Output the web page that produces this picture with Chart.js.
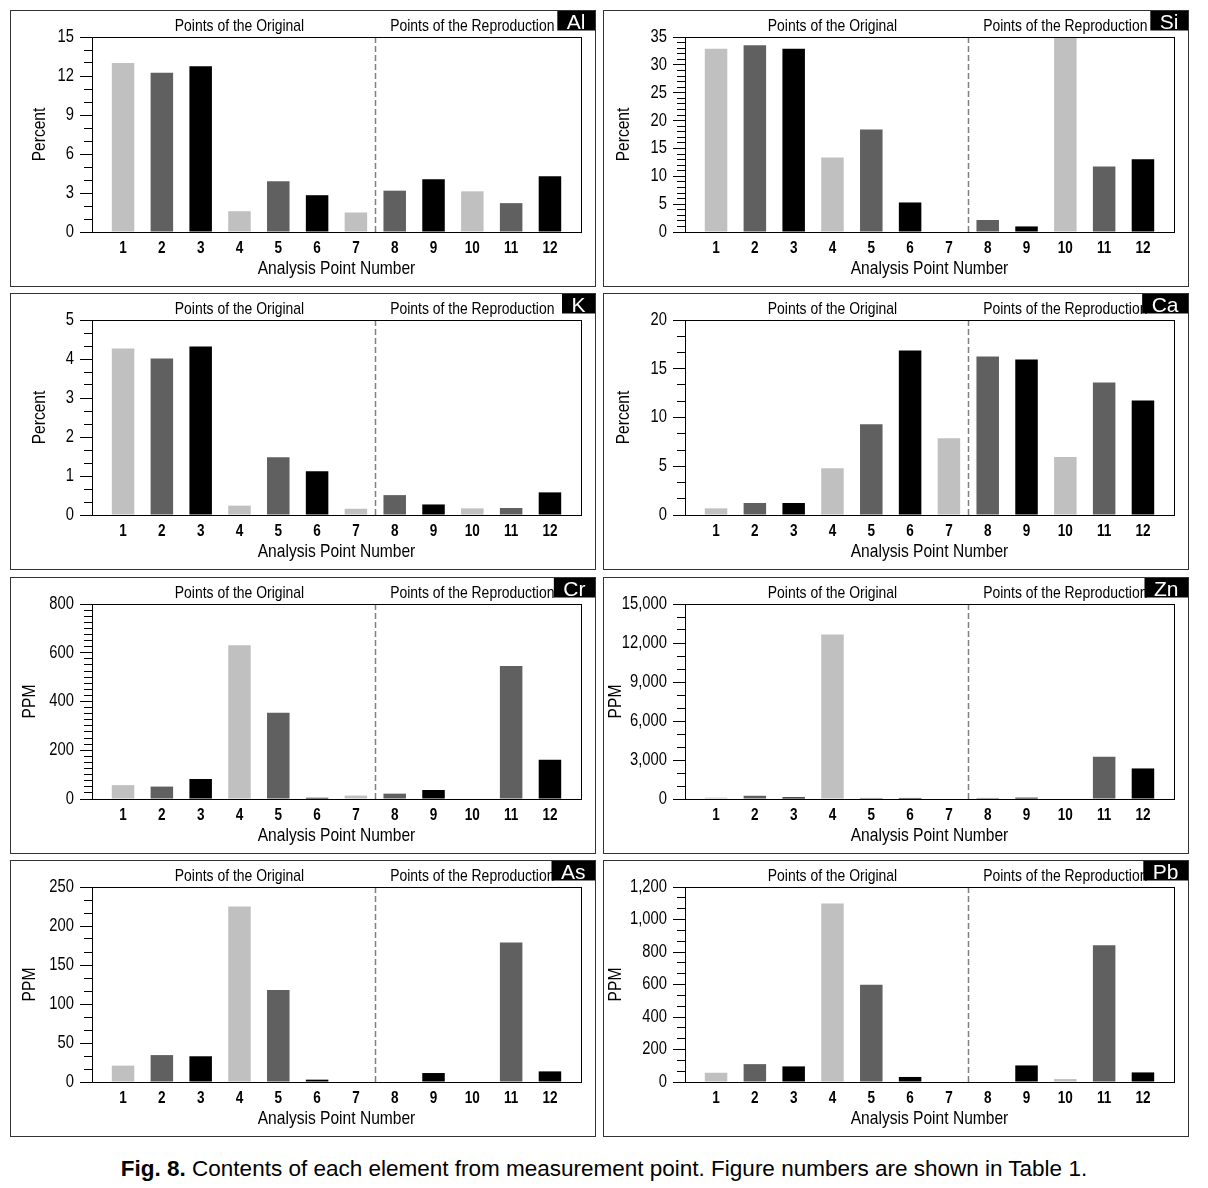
<!DOCTYPE html>
<html>
<head>
<meta charset="utf-8">
<script src="https://cdn.jsdelivr.net/npm/chart.js@4.4.1/dist/chart.umd.min.js"></script>
<style>
  html, body { margin: 0; padding: 0; background: #fff; }
  body { width: 1208px; height: 1188px; position: relative; overflow: hidden; }
  .panel { position: absolute; width: 584px; height: 275px; border: 1px solid #333; background: #fff; }
  .panel canvas { position: absolute; left: 0; top: 0; }
  #caption { position: absolute; left: 0; top: 1156px; width: 1208px; text-align: center;
             font-family: 'Liberation Sans', Arial, sans-serif; font-size: 22.5px; line-height: 26px; color: #000; }
</style>
</head>
<body>
<div id="caption"><b>Fig. 8.</b> Contents of each element from measurement point. Figure numbers are shown in Table 1.</div>
<script>
// ---------------- data ----------------
const pointNumbers = [1, 2, 3, 4, 5, 6, 7, 8, 9, 10, 11, 12];

const alPercent = [13.0, 12.25, 12.75, 1.6, 3.9, 2.83, 1.5, 3.18, 4.05, 3.13, 2.22, 4.28];
const siPercent = [32.9, 33.5, 32.9, 13.35, 18.4, 5.3, 0, 2.15, 1.0, 36.0, 11.75, 13.05];
const kPercent  = [4.27, 4.01, 4.32, 0.24, 1.48, 1.12, 0.16, 0.51, 0.27, 0.17, 0.18, 0.58];
const caPercent = [0.68, 1.23, 1.23, 4.8, 9.3, 16.87, 7.87, 16.25, 15.95, 5.96, 13.6, 11.75];
const crPpm = [57, 51, 82, 631, 354, 5, 14, 22, 37, 0, 546, 161];
const znPpm = [100, 250, 130, 12650, 80, 80, 0, 80, 100, 0, 3245, 2350];
const asPpm = [21, 34.5, 33, 225, 118, 3, 0, 0, 11.5, 0, 179, 13.6];
const pbPpm = [57, 110, 96, 1098, 599, 31, 0, 0, 102, 18, 842, 59];

// major tick labels of each value axis
const alTicks = [0, 3, 6, 9, 12, 15];
const siTicks = [0, 5, 10, 15, 20, 25, 30, 35];
const kTicks  = [0, 1, 2, 3, 4, 5];
const caTicks = [0, 5, 10, 15, 20];
const crTicks = [0, 100, 200, 300, 400, 500, 600, 700, 800];
const znTicks = [0, 3000, 6000, 9000, 12000, 15000];
const asTicks = [0, 50, 100, 150, 200, 250];
const pbTicks = [0, 200, 400, 600, 800, 1000, 1200];

const groupLabels = ['Points of the Original', 'Points of the Reproduction'];
const groupCenters = [4, 10];
const dividerAt = 7.5;
const xTitle = 'Analysis Point Number';

// ---------------- styles / layout ----------------
const barShades = ['#c0c0c0', '#606060', '#000000'];
const FONT = "'Liberation Sans', Arial, sans-serif";
const CONDENSE = 0.82;   // the figure uses a narrow face

const panels = [
  { tag: 'Al', values: alPercent, ticks: alTicks, minorSplit: 3, unit: 'Percent', left: 10,  top: 10,  titlePad: 17 },
  { tag: 'Si', values: siPercent, ticks: siTicks, minorSplit: 5, unit: 'Percent', left: 603, top: 10,  titlePad: 8 },
  { tag: 'K',  values: kPercent,  ticks: kTicks,  minorSplit: 3, unit: 'Percent', left: 10,  top: 293, titlePad: 17 },
  { tag: 'Ca', values: caPercent, ticks: caTicks, minorSplit: 3, unit: 'Percent', left: 603, top: 293, titlePad: 8 },
  { tag: 'Cr', values: crPpm,     ticks: crTicks, minorSplit: 4, unit: 'PPM',     left: 10,  top: 577, titlePad: 7 },
  { tag: 'Zn', values: znPpm,     ticks: znTicks, minorSplit: 3, unit: 'PPM',     left: 603, top: 577, titlePad: 0 },
  { tag: 'As', values: asPpm,     ticks: asTicks, minorSplit: 3, unit: 'PPM',     left: 10,  top: 860, titlePad: 7 },
  { tag: 'Pb', values: pbPpm,     ticks: pbTicks, minorSplit: 3, unit: 'PPM',     left: 603, top: 860, titlePad: 0 }
];

const CW = 584, CH = 275;
const Y_AXIS_W = 81, X_AXIS_H = 54, PAD_TOP = 26, PAD_RIGHT = 14;

// draw all text of a canvas horizontally condensed (narrow face look)
function condenseText(ctx) {
  const orig = ctx.fillText.bind(ctx);
  ctx.fillText = function (text, x, y, maxWidth) {
    this.save();
    this.translate(x, y);
    this.scale(CONDENSE, 1);
    if (maxWidth !== undefined) orig(text, 0, 0, maxWidth / CONDENSE); else orig(text, 0, 0);
    this.restore();
  };
  ctx.fillTextPlain = orig;
}

const panelDecor = {
  id: 'panelDecor',
  afterDraw(chart, args, opts) {
    const { ctx, chartArea: a } = chart;
    const x = chart.scales.x;
    ctx.save();
    // divider between original and reproduction points
    const dx = Math.round(x.getPixelForValue(dividerAt)) + 0.5;
    ctx.strokeStyle = '#808080';
    ctx.lineWidth = 1.5;
    ctx.setLineDash([6, 3]);
    ctx.beginPath();
    ctx.moveTo(dx, a.top);
    ctx.lineTo(dx, a.bottom);
    ctx.stroke();
    ctx.setLineDash([]);
    // plot frame
    ctx.strokeStyle = '#000';
    ctx.lineWidth = 1;
    ctx.strokeRect(Math.round(a.left) + 0.5, Math.round(a.top) + 0.5,
                   Math.round(a.right - a.left), Math.round(a.bottom - a.top));
    // group headings
    ctx.fillStyle = '#000';
    ctx.font = '17px ' + FONT;
    ctx.textAlign = 'center';
    ctx.textBaseline = 'alphabetic';
    groupLabels.forEach((t, i) => ctx.fillText(t, x.getPixelForValue(groupCenters[i]), 20));
    // element tag
    ctx.font = '21px ' + FONT;
    const w = ctx.measureText(opts.tag).width + 19;
    ctx.fillStyle = '#000';
    ctx.fillRect(chart.width - w, 0, w, 19.5);
    ctx.fillStyle = '#fff';
    ctx.fillTextPlain(opts.tag, chart.width - w / 2, 17.5);
    ctx.restore();
  }
};

function fmt(v) { return Number(v).toLocaleString('en-US'); }

panels.forEach(p => {
  const div = document.createElement('div');
  div.className = 'panel';
  div.style.left = p.left + 'px';
  div.style.top = p.top + 'px';
  const cv = document.createElement('canvas');
  cv.width = CW; cv.height = CH;
  cv.style.width = CW + 'px'; cv.style.height = CH + 'px';
  div.appendChild(cv);
  document.body.appendChild(div);
  condenseText(cv.getContext('2d'));

  const yMax = p.ticks[p.ticks.length - 1];
  const majorStep = p.ticks[1] - p.ticks[0];
  const minorTicks = [];
  const nMinor = (p.ticks.length - 1) * p.minorSplit;
  for (let i = 0; i <= nMinor; i++) minorTicks.push(i * majorStep / p.minorSplit);

  new Chart(cv, {
    type: 'bar',
    data: {
      datasets: [{
        data: pointNumbers.map((n, i) => ({ x: n, y: p.values[i] })),
        backgroundColor: pointNumbers.map((n, i) => barShades[i % 3]),
        borderWidth: 0,
        barPercentage: 0.58,
        categoryPercentage: 1.0
      }]
    },
    options: {
      responsive: false,
      animation: false,
      devicePixelRatio: 1,
      layout: { padding: { left: 0, right: PAD_RIGHT, top: PAD_TOP, bottom: 0 } },
      plugins: { legend: { display: false }, tooltip: { enabled: false }, panelDecor: { tag: p.tag } },
      scales: {
        x: {
          type: 'linear', min: 0.2, max: 12.8, offset: false,
          afterBuildTicks: ax => { ax.ticks = pointNumbers.map(v => ({ value: v })); },
          afterFit: ax => { ax.height = X_AXIS_H; },
          grid: { display: false, drawTicks: false, offset: false },
          border: { display: false },
          ticks: { color: '#000', padding: 7, maxRotation: 0, autoSkip: false,
                   font: { family: FONT, size: 16.5, weight: 'bold' },
                   callback: v => String(v) },
          title: { display: true, text: xTitle, color: '#000',
                   font: { family: FONT, size: 19 }, padding: { top: 0, bottom: 6 } }
        },
        yMinor: {
          position: 'left', min: 0, max: yMax, weight: 0,
          afterBuildTicks: ax => { ax.ticks = minorTicks.map(v => ({ value: v })); },
          afterFit: ax => { ax.width = 0; },
          grid: { display: true, drawOnChartArea: false, drawTicks: true, tickLength: 8,
                  color: '#000', tickColor: '#000', lineWidth: 1 },
          border: { display: false },
          ticks: { display: false }
        },
        y: {
          position: 'left', min: 0, max: yMax, weight: 1,
          afterBuildTicks: ax => { ax.ticks = p.ticks.map(v => ({ value: v })); },
          afterFit: ax => { ax.width = Y_AXIS_W; },
          grid: { display: true, drawOnChartArea: false, drawTicks: true, tickLength: 12,
                  color: '#000', tickColor: '#000', lineWidth: 1 },
          border: { display: false },
          ticks: { color: '#000', padding: 6, font: { family: FONT, size: 18 }, callback: v => fmt(v) },
          title: { display: true, text: p.unit, color: '#000',
                   font: { family: FONT, size: 19 }, padding: { top: p.titlePad, bottom: 0 } }
        }
      }
    },
    plugins: [panelDecor]
  });
});
</script>
</body>
</html>
